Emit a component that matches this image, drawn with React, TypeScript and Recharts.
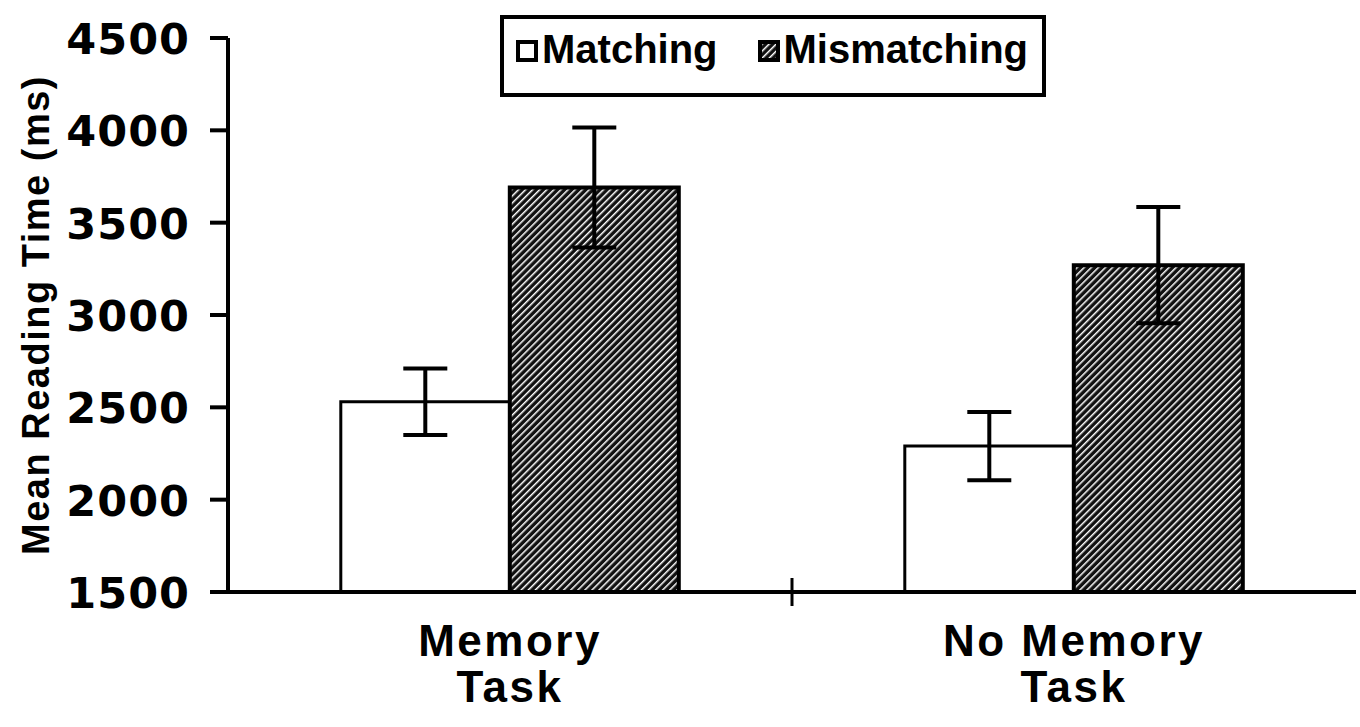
import React from "react";
import { BarChart, Bar, XAxis, YAxis, ErrorBar, Legend } from "recharts";

const categories = ["Memory Task", "No Memory Task"];
const xLabelLines = [["Memory", "Task"], ["No Memory", "Task"]];
const matching = [2530, 2290];
const mismatching = [3690, 3270];
const matchingErr = [180, 185];
const mismatchingErr = [325, 315];
const yTicks = [1500, 2000, 2500, 3000, 3500, 4000, 4500];
const seriesNames = ["Matching", "Mismatching"];

const data = categories.map((c, i) => ({
  name: c,
  matching: matching[i],
  mismatching: mismatching[i],
  matchingErr: matchingErr[i],
  mismatchingErr: mismatchingErr[i],
}));

const W = 1360;
const H = 727;
const M = { top: 38, right: 4, bottom: 0, left: 0 };
const Y_W = 228;
const X_H = 135;
const plotW = W - M.left - M.right - Y_W;
const bandW = plotW / categories.length;

const XTick = (props: any) => {
  const { x, y, index } = props;
  const lines = xLabelLines[index] || [];
  return (
    <g>
      {index < categories.length - 1 && (
        <line x1={x + bandW / 2} x2={x + bandW / 2} y1={y - 22} y2={y + 6} stroke="#000" strokeWidth={3} />
      )}
      {lines.map((l, k) => (
        <text
          key={k}
          x={x}
          y={y + 56 + k * 46}
          textAnchor="middle"
          fontFamily="'Liberation Sans', Arial, sans-serif"
          fontWeight="bold"
          fontSize={44}
          letterSpacing={2.5}
          fill="#000"
        >
          {l}
        </text>
      ))}
    </g>
  );
};

const YTick = (props: any) => {
  const { x, y, payload } = props;
  return (
    <text
      x={x}
      y={y + 16}
      textAnchor="end"
      fontFamily="'DejaVu Sans', sans-serif"
      fontWeight="bold"
      fontSize={43}
      letterSpacing={1}
      fill="#000"
    >
      {payload.value}
    </text>
  );
};

const YLabel = (props: any) => {
  const vb = props.viewBox || {};
  const cx = 36;
  const cy = vb.y + vb.height / 2;
  return (
    <text
      x={cx}
      y={cy}
      transform={`rotate(-90, ${cx}, ${cy})`}
      textAnchor="middle"
      dominantBaseline="central"
      fontFamily="'Liberation Sans', Arial, sans-serif"
      fontWeight="bold"
      fontSize={38}
      letterSpacing={1.5}
      fill="#000"
    >
      Mean Reading Time (ms)
    </text>
  );
};

const LegendBox = () => (
  <div
    style={{
      width: 546,
      height: 82,
      border: "4px solid #000",
      boxSizing: "border-box",
      display: "flex",
      alignItems: "flex-start",
      paddingTop: 6,
      paddingLeft: 12,
      fontFamily: "'Liberation Sans', Arial, sans-serif",
      fontWeight: "bold",
      fontSize: 40,
      letterSpacing: 0,
      lineHeight: "48px",
      color: "#000",
      background: "#fff",
    }}
  >
    <span style={{ display: "flex", alignItems: "center" }}>
      <svg width={22} height={22} style={{ marginRight: 4, marginTop: 4 }}>
        <rect x={2} y={2} width={18} height={18} fill="#fff" stroke="#000" strokeWidth={4} />
      </svg>
      {seriesNames[0]}
    </span>
    <span style={{ display: "flex", alignItems: "center", marginLeft: 40 }}>
      <svg width={22} height={22} style={{ marginRight: 4, marginTop: 4 }}>
        <rect x={2} y={2} width={18} height={18} fill="url(#hatch)" stroke="#000" strokeWidth={4} />
      </svg>
      {seriesNames[1]}
    </span>
  </div>
);

export default function App() {
  return (
    <div style={{ position: "absolute", left: 0, top: 0, width: W, height: H, background: "#fff" }}>
      <BarChart width={W} height={H} data={data} margin={M} barCategoryGap="20%" barGap={0}>
        <defs>
          <pattern id="hatch" patternUnits="userSpaceOnUse" width={5} height={5} patternTransform="rotate(45)">
            <rect x={0} y={0} width={5} height={5} fill="#111" />
            <rect x={0} y={0} width={1.5} height={5} fill="#fff" />
          </pattern>
        </defs>
        <XAxis
          dataKey="name"
          height={X_H}
          axisLine={{ stroke: "#000", strokeWidth: 4 }}
          tickLine={false}
          tick={<XTick />}
          interval={0}
        />
        <YAxis
          width={Y_W}
          domain={[1500, 4500]}
          ticks={yTicks}
          allowDataOverflow
          axisLine={{ stroke: "#000", strokeWidth: 4 }}
          tickLine={{ stroke: "#000", strokeWidth: 4 }}
          tickSize={18}
          tickMargin={20}
          tick={<YTick />}
          label={<YLabel />}
        />
        <Legend
          layout="horizontal"
          verticalAlign="middle"
          align="center"
          content={<LegendBox />}
          wrapperStyle={{ position: "absolute", left: 500, top: 15, width: 546, height: 82 }}
        />
        <Bar dataKey="matching" fill="#fff" stroke="#000" strokeWidth={3} isAnimationActive={false}>
          <ErrorBar dataKey="matchingErr" width={22} stroke="#000" strokeWidth={4} direction="y" />
        </Bar>
        <Bar dataKey="mismatching" fill="url(#hatch)" stroke="#000" strokeWidth={4} isAnimationActive={false}>
          <ErrorBar dataKey="mismatchingErr" width={22} stroke="#000" strokeWidth={4} direction="y" />
        </Bar>
      </BarChart>
    </div>
  );
}
